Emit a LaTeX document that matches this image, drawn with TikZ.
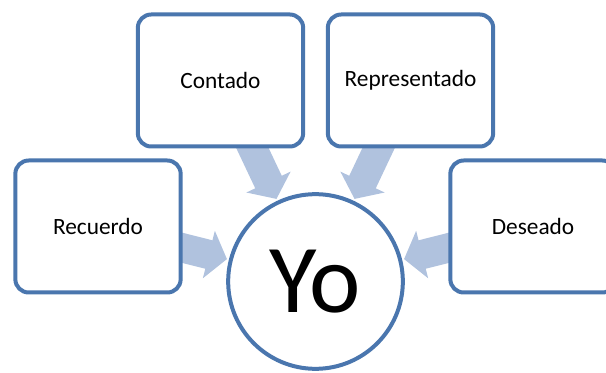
\documentclass[tikz,border=0pt]{standalone}
\usepackage{fontspec}
\setmainfont{Carlito}
\usetikzlibrary{arrows.meta,backgrounds}
\definecolor{yoborde}{HTML}{4A76AE}
\definecolor{yoflecha}{HTML}{B0C2DE}

\begin{document}
\begin{tikzpicture}[x=0.75pt, y=-0.75pt,
    caja/.style={shape=rectangle, draw=yoborde, fill=white, line width=3pt, rounded corners=10pt, inner sep=0, minimum width=124pt, minimum height=99pt, font=\fontsize{17.5}{21}\selectfont},
    flecha/.style={draw=yoflecha, line width=22pt, -{Triangle[width=36pt, length=14pt]}, shorten >=1.5pt}]
  \useasboundingbox (0,0) rectangle (606,373);
  % Paths, nodes and wires:
  \node[caja] (contado) at (220.5, 80.5){Contado};
  \node[caja] (representado) at (410.5, 80.5){Representado};
  \node[caja] (recuerdo) at (98, 226.5){Recuerdo};
  \node[caja] (deseado) at (533, 226.5){Deseado};
  \node[shape=circle, draw=yoborde, fill=white, line width=3pt, inner sep=0, minimum size=131pt, font=\fontsize{73}{80}\selectfont] (yo) at (315.5, 281.5){Yo};
  \begin{scope}[on background layer]
    \draw[flecha] (recuerdo.center) -- (yo);
    \draw[flecha] (contado.center) -- (yo);
    \draw[flecha] (representado.center) -- (yo);
    \draw[flecha] (deseado.center) -- (yo);
  \end{scope}
\end{tikzpicture}
\end{document}
